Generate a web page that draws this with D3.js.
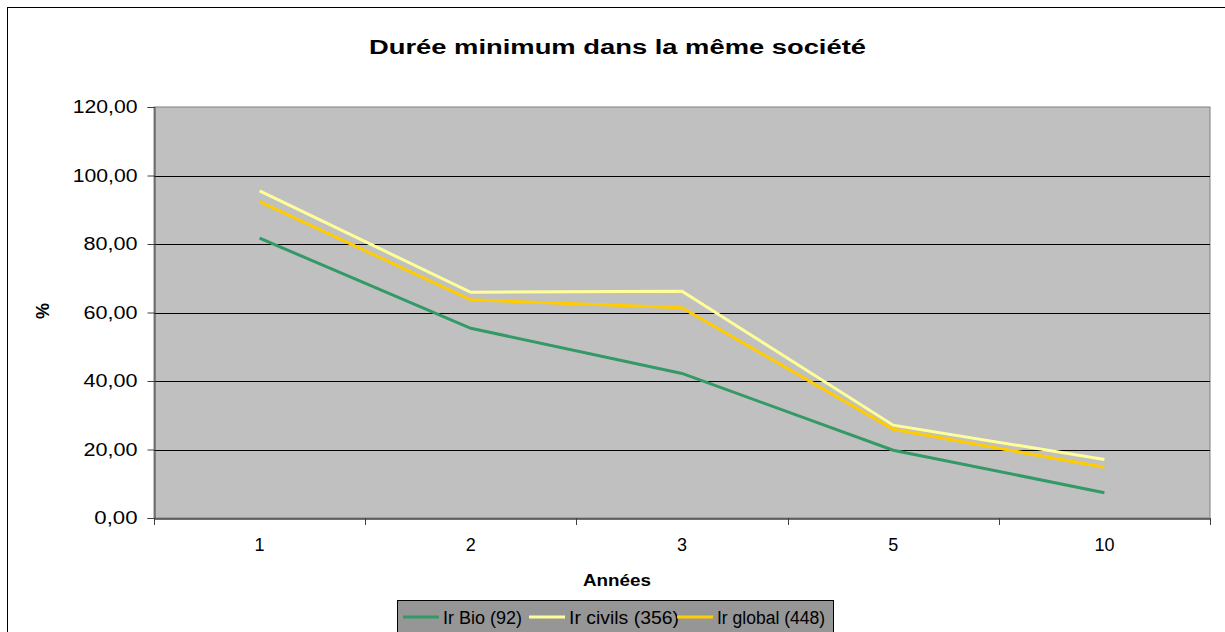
<!DOCTYPE html>
<html><head><meta charset="utf-8">
<script src="https://cdn.jsdelivr.net/npm/d3@7"></script>
<style>body{margin:0;background:#fff}svg{display:block;font-family:Arial,"Liberation Sans",sans-serif}</style>
</head><body>
<svg id="c" width="1225" height="632"></svg>
<script>
const categories = ["1","2","3","5","10"];
const bio = [81.7, 55.4, 42.2, 19.8, 7.4];
const civils = [95.5, 65.9, 66.2, 27.1, 17.1];
const global = [92.4, 63.7, 61.4, 25.9, 14.8];
const seriesNames = ["Ir Bio (92)", "Ir civils (356)", "Ir global (448)"];
const seriesColors = ["#339966", "#ffff99", "#ffcc00"];
const yTicks = [0,20,40,60,80,100,120];

const svg = d3.select("#c");
const L=154, R=1210, T=107, B=518;
svg.append("rect").attr("x",7.5).attr("y",7.5).attr("width",1240).attr("height",700)
  .attr("fill","#fff").attr("stroke","#000").attr("stroke-width",1);

const x = d3.scaleBand().domain(categories).range([L,R]);
const y = d3.scaleLinear().domain([0,120]).range([B,T]);

svg.append("rect").attr("x",L).attr("y",T).attr("width",R-L).attr("height",B-T)
  .attr("fill","#c0c0c0").attr("stroke","#808080").attr("stroke-width",1);

// gridlines
svg.append("g").selectAll("line").data(yTicks.filter(d=>d>0 && d<120)).join("line")
  .attr("x1",L).attr("x2",R).attr("y1",d=>Math.round(y(d))+0.5).attr("y2",d=>Math.round(y(d))+0.5)
  .attr("stroke","#000").attr("stroke-width",1);

// y axis
const yAxis = d3.axisLeft(y).tickValues(yTicks).tickSize(7).tickPadding(10)
  .tickFormat(d=>d3.format(".2f")(d).replace(".",","));
const gy = svg.append("g").attr("transform",`translate(${L+0.5},0)`).call(yAxis);
gy.select(".domain").attr("stroke","#404040");
gy.selectAll(".tick line").attr("stroke","#404040");
gy.selectAll("text").attr("font-size",18).attr("fill","#000")
  .attr("textLength",function(){return this.textContent.length*10.8;}).attr("lengthAdjust","spacingAndGlyphs");

// x axis
const xAxis = d3.axisBottom(x).tickSize(0).tickPadding(20);
const gx = svg.append("g").attr("transform",`translate(0,${B+0.5})`).call(xAxis);
gx.select(".domain").attr("stroke","#404040").attr("stroke-width",1.5);
gx.selectAll("text").attr("font-size",18).attr("fill","#000");
const bounds = categories.map(c=>x(c)).concat([R]);
svg.append("g").selectAll("line").data(bounds).join("line")
  .attr("x1",d=>Math.round(d)+0.5).attr("x2",d=>Math.round(d)+0.5)
  .attr("y1",B).attr("y2",B+7).attr("stroke","#404040");

// lines
const allSeries = [bio, civils, global];
const line = d3.line().x((d,i)=>x(categories[i])+x.bandwidth()/2).y(d=>y(d));
allSeries.forEach((s,i)=>{
  svg.append("path").datum(s).attr("d",line).attr("fill","none")
    .attr("stroke",seriesColors[i]).attr("stroke-width",3).attr("stroke-linejoin","miter");
});

// title
svg.append("text").attr("x",617.5).attr("y",54).attr("text-anchor","middle")
  .attr("font-size",20).attr("font-weight","bold")
  .attr("textLength",497).attr("lengthAdjust","spacingAndGlyphs")
  .text("Durée minimum dans la même société");
// y label
svg.append("text").attr("transform","translate(49,311) rotate(-90)").attr("text-anchor","middle")
  .attr("font-size",18).attr("font-weight","bold").text("%");
// x label
svg.append("text").attr("x",617).attr("y",586).attr("text-anchor","middle")
  .attr("font-size",17).attr("font-weight","bold")
  .attr("textLength",68).attr("lengthAdjust","spacingAndGlyphs").text("Années")
  .attr("x",617+0).attr("x",(583+651)/2);
// legend
svg.append("rect").attr("x",397.5).attr("y",600.5).attr("width",436).attr("height",40)
  .attr("fill","#969696").attr("stroke","#000").attr("stroke-width",1);
const lx = [403, 529, 677];
const lw = [79, 110, 108];
seriesNames.forEach((n,i)=>{
  svg.append("line").attr("x1",lx[i]).attr("x2",lx[i]+36).attr("y1",617).attr("y2",617)
    .attr("stroke",seriesColors[i]).attr("stroke-width",3);
  svg.append("text").attr("x",lx[i]+40).attr("y",624).attr("font-size",18)
    .attr("textLength",lw[i]).attr("lengthAdjust","spacingAndGlyphs").text(n);
});
</script>
</body></html>
